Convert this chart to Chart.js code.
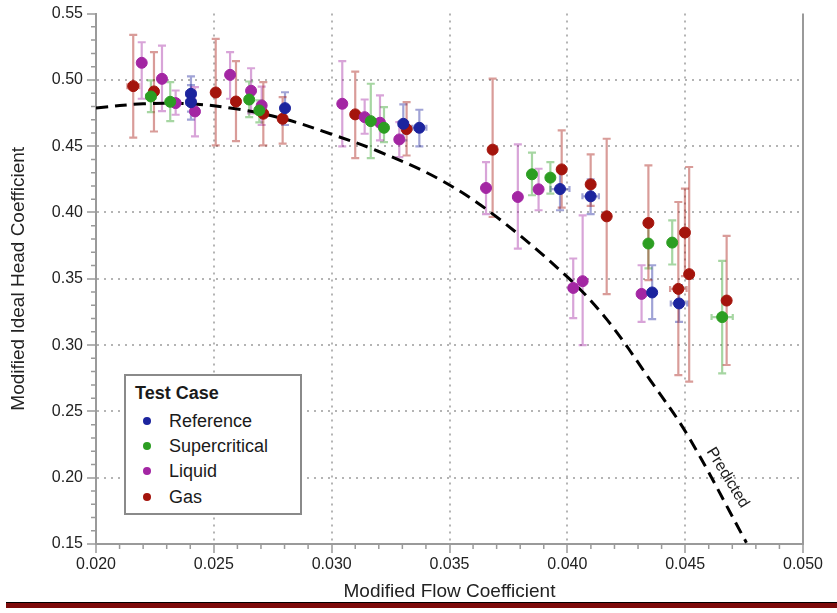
<!DOCTYPE html>
<html>
<head>
<meta charset="utf-8">
<script src="https://cdn.jsdelivr.net/npm/chart.js@4.4.0/dist/chart.umd.min.js"></script>
<style>
    body { margin: 0; background: #fff; font-family: "Liberation Sans", Arial, sans-serif; }
    #wrap { position: relative; width: 837px; height: 613px; }
    #legend {
        position: absolute; left: 124px; top: 374px; width: 174px; height: 137px;
        border: 2px solid #8a8a8a; background: #fff; color: #1a1a1a; font-size: 18px;
    }
    #legend .title { position: absolute; left: 9px; top: 7px; line-height: 20px; font-weight: bold; }
    #legend .row { position: absolute; left: 0; line-height: 20px; height: 20px; }
    #legend .dot { position: absolute; left: 17px; top: 6px; width: 8px; height: 8px; border-radius: 50%; }
    #legend .name { position: absolute; left: 43px; top: 0; white-space: nowrap; }
    #bar { position: absolute; left: 6px; top: 602px; width: 831px; height: 5px; background: #7d0b0b; border-top: 1px solid #000; }
</style>
</head>
<body>
<div id="wrap">
    <canvas id="chart" width="837" height="613"></canvas>
    <div id="legend"><div class="title">Test Case</div></div>
    <div id="bar"></div>
</div>
<script>
// Measured points: flow coefficient (x), head coefficient (y), error limits
const refX   = [0.02403, 0.02403, 0.02802, 0.03304, 0.03372, 0.03969, 0.04099, 0.04360, 0.04474];
const refY   = [0.4895, 0.4832, 0.4787, 0.4669, 0.4639, 0.4177, 0.4122, 0.3397, 0.3314];
const refLo  = [0.4760, 0.4700, 0.4660, 0.4544, 0.4498, 0.4017, 0.3987, 0.3196, 0.3175];
const refHi  = [0.5026, 0.4960, 0.4907, 0.4815, 0.4775, 0.4330, 0.4250, 0.3602, 0.3452];
const refXErr = [0.0002, 0.0002, 0.00017, 0.0002, 0.0003, 0.0004, 0.00035, 0, 0.00035];

const supX   = [0.02233, 0.02315, 0.02650, 0.02693, 0.03166, 0.03222, 0.03850, 0.03928, 0.04344, 0.04445, 0.04657];
const supY   = [0.4875, 0.4835, 0.4852, 0.4770, 0.4689, 0.4639, 0.4288, 0.4263, 0.3766, 0.3773, 0.3211];
const supLo  = [0.4757, 0.4689, 0.4719, 0.4680, 0.4410, 0.4531, 0.4130, 0.4142, 0.3578, 0.3608, 0.2787];
const supHi  = [0.4996, 0.4983, 0.4988, 0.4845, 0.4971, 0.4794, 0.4451, 0.4380, 0.3941, 0.3941, 0.3635];
const supXErr = [0.0002, 0, 0, 0, 0, 0, 0, 0, 0, 0, 0.00045];

const liqX   = [0.02194, 0.02280, 0.02338, 0.02420, 0.02569, 0.02658, 0.02703, 0.03045, 0.03140, 0.03205, 0.03287,
                0.03655, 0.03790, 0.03878, 0.04025, 0.04065, 0.04315];
const liqY   = [0.5129, 0.5008, 0.4825, 0.4762, 0.5038, 0.4918, 0.4807, 0.4820, 0.4719, 0.4677, 0.4551,
                0.4185, 0.4117, 0.4175, 0.3431, 0.3482, 0.3386];
const liqLo  = [0.4858, 0.4764, 0.4737, 0.4574, 0.4858, 0.4747, 0.4660, 0.4498, 0.4594, 0.4544, 0.4418,
                0.3987, 0.3728, 0.4017, 0.3203, 0.3000, 0.3175];
const liqHi  = [0.5284, 0.5259, 0.4920, 0.4945, 0.5209, 0.5088, 0.4950, 0.5141, 0.4852, 0.4883, 0.4681,
                0.4380, 0.4514, 0.4330, 0.3653, 0.3979, 0.3602];

const gasX   = [0.02158, 0.02246, 0.02508, 0.02594, 0.02710, 0.02792, 0.03100, 0.03318, 0.03683, 0.03976,
                0.04099, 0.04167, 0.04344, 0.04471, 0.04499, 0.04517, 0.04676];
const gasY   = [0.4953, 0.4913, 0.4905, 0.4837, 0.4745, 0.4707, 0.4740, 0.4629, 0.4474, 0.4325,
                0.4212, 0.3971, 0.3921, 0.3424, 0.3849, 0.3535, 0.3336];
const gasLo  = [0.4564, 0.4611, 0.4506, 0.4538, 0.4506, 0.4519, 0.4410, 0.4430, 0.3966, 0.4037,
                0.4050, 0.3384, 0.3490, 0.2774, 0.3520, 0.2724, 0.2850];
const gasHi  = [0.5340, 0.5209, 0.5310, 0.5141, 0.4983, 0.4870, 0.5063, 0.4832, 0.5010, 0.4619,
                0.4438, 0.4556, 0.4355, 0.4079, 0.4180, 0.4343, 0.3823];
const gasXErr = [0.00025, 0, 0, 0, 0, 0, 0, 0, 0, 0, 0, 0, 0, 0.00035, 0, 0, 0];

// Predicted curve
const predX = [0.0200, 0.0220, 0.0240, 0.0260, 0.0280, 0.0300, 0.0320, 0.0346, 0.0369,
               0.0400, 0.0417, 0.0435, 0.0451, 0.0476];
const predY = [0.4788, 0.4820, 0.4820, 0.4780, 0.4705, 0.4590, 0.4460, 0.4248, 0.3980,
               0.3514, 0.3188, 0.2740, 0.2322, 0.1510];
const predLabel = 'Predicted';
const predLabelAt = { x: 0.0468, y: 0.200 };

const xTicks = [0.020, 0.025, 0.030, 0.035, 0.040, 0.045, 0.050];
const yTicks = [0.15, 0.20, 0.25, 0.30, 0.35, 0.40, 0.45, 0.50, 0.55];

const series = [
    { label: 'Reference',     x: refX, y: refY, lo: refLo, hi: refHi, xErr: refXErr, rgb: '28,36,158' },
    { label: 'Supercritical', x: supX, y: supY, lo: supLo, hi: supHi, xErr: supXErr, rgb: '44,158,34' },
    { label: 'Liquid',        x: liqX, y: liqY, lo: liqLo, hi: liqHi, xErr: null,    rgb: '163,38,163' },
    { label: 'Gas',           x: gasX, y: gasY, lo: gasLo, hi: gasHi, xErr: gasXErr, rgb: '164,20,12' }
];

const FONT = '"Liberation Sans", Arial, sans-serif';
const isEnd = (v, list) => Math.abs(v - list[0]) < 1e-9 || Math.abs(v - list[list.length - 1]) < 1e-9;

// vertical and horizontal error bars, drawn under the markers
const errorBars = {
    id: 'errorBars',
    beforeDatasetsDraw(chart) {
        const ctx = chart.ctx;
        const xs = chart.scales.x, ys = chart.scales.y;
        chart.data.datasets.forEach(ds => {
            if (!ds.errLo) return;
            ctx.save();
            ctx.strokeStyle = ds.errColor;
            ctx.lineWidth = 2.2;
            ds.data.forEach((p, i) => {
                const px = xs.getPixelForValue(p.x);
                const py = ys.getPixelForValue(p.y);
                const top = ys.getPixelForValue(ds.errHi[i]);
                const bot = ys.getPixelForValue(ds.errLo[i]);
                ctx.beginPath();
                ctx.moveTo(px, top); ctx.lineTo(px, bot);
                ctx.moveTo(px - 4, top); ctx.lineTo(px + 4, top);
                ctx.moveTo(px - 4, bot); ctx.lineTo(px + 4, bot);
                ctx.stroke();
                const e = ds.errX ? ds.errX[i] : 0;
                if (e > 0) {
                    const l = xs.getPixelForValue(p.x - e);
                    const r = xs.getPixelForValue(p.x + e);
                    ctx.beginPath();
                    ctx.moveTo(l, py); ctx.lineTo(r, py);
                    ctx.moveTo(l, py - 3); ctx.lineTo(l, py + 3);
                    ctx.moveTo(r, py - 3); ctx.lineTo(r, py + 3);
                    ctx.stroke();
                }
            });
            ctx.restore();
        });
    }
};

// minor ticks, right frame line and curve label
const frame = {
    id: 'frame',
    afterDraw(chart) {
        const ctx = chart.ctx;
        const xs = chart.scales.x, ys = chart.scales.y;
        const a = chart.chartArea;
        ctx.save();
        ctx.strokeStyle = '#9a9a9a';
        ctx.lineWidth = 1.5;
        ctx.beginPath();
        for (let i = 21; i < 50; i++) {
            if (i % 5 === 0) continue;
            const px = xs.getPixelForValue(i / 1000);
            ctx.moveTo(px, a.bottom); ctx.lineTo(px, a.bottom + 5);
        }
        for (let i = 16; i < 55; i++) {
            if (i % 5 === 0) continue;
            const py = ys.getPixelForValue(i / 100);
            ctx.moveTo(a.left - 5, py); ctx.lineTo(a.left, py);
        }
        ctx.stroke();
        ctx.lineWidth = 2;
        ctx.beginPath();
        ctx.moveTo(a.right, a.top); ctx.lineTo(a.right, a.bottom + 1);
        ctx.stroke();

        ctx.translate(xs.getPixelForValue(predLabelAt.x), ys.getPixelForValue(predLabelAt.y));
        ctx.rotate(58.5 * Math.PI / 180);
        ctx.fillStyle = '#1a1a1a';
        ctx.font = '16px ' + FONT;
        ctx.textAlign = 'center';
        ctx.textBaseline = 'middle';
        ctx.fillText(predLabel, 0, 0);
        ctx.restore();
    }
};

const datasets = series.map(s => ({
    label: s.label,
    data: s.x.map((v, i) => ({ x: v, y: s.y[i] })),
    errLo: s.lo,
    errHi: s.hi,
    errX: s.xErr,
    errColor: `rgba(${s.rgb},0.42)`,
    backgroundColor: `rgb(${s.rgb})`,
    borderColor: `rgb(${s.rgb})`,
    borderWidth: 1,
    pointRadius: 5.5,
    order: 1
}));

datasets.unshift({
    label: predLabel,
    data: predX.map((v, i) => ({ x: v, y: predY[i] })),
    showLine: true,
    borderColor: '#000',
    borderWidth: 3,
    borderDash: [12, 7],
    pointRadius: 0,
    tension: 0.35,
    order: 5
});

new Chart(document.getElementById('chart'), {
    type: 'scatter',
    data: { datasets: datasets },
    options: {
        responsive: false,
        animation: false,
        layout: { padding: { left: 0, right: 34, top: 13, bottom: 0 } },
        plugins: { legend: { display: false }, tooltip: { enabled: false } },
        scales: {
            x: {
                type: 'linear',
                min: xTicks[0],
                max: xTicks[xTicks.length - 1],
                afterFit: s => { s.height = 69; },
                afterBuildTicks: s => { s.ticks = xTicks.map(v => ({ value: v })); },
                ticks: {
                    callback: v => v.toFixed(3),
                    font: { family: FONT, size: 16 },
                    color: '#222',
                    padding: 2,
                    maxRotation: 0
                },
                grid: {
                    color: c => isEnd(c.tick.value, xTicks) ? 'transparent' : '#b4b4b4',
                    lineWidth: 2,
                    tickColor: '#9a9a9a',
                    tickLength: 9,
                    tickWidth: 1.5
                },
                border: { color: '#9a9a9a', width: 2, dash: [2, 5] },
                title: {
                    display: true,
                    text: 'Modified Flow Coefficient',
                    font: { family: FONT, size: 19 },
                    color: '#222',
                    padding: { top: 0, bottom: 10 }
                }
            },
            y: {
                type: 'linear',
                min: yTicks[0],
                max: yTicks[yTicks.length - 1],
                afterFit: s => { s.width = 96; },
                afterBuildTicks: s => { s.ticks = yTicks.map(v => ({ value: v })); },
                ticks: {
                    callback: v => v.toFixed(2),
                    font: { family: FONT, size: 16 },
                    color: '#222',
                    padding: 4
                },
                grid: {
                    color: c => isEnd(c.tick.value, yTicks) ? 'transparent' : '#b4b4b4',
                    lineWidth: 2,
                    tickColor: '#9a9a9a',
                    tickLength: 9,
                    tickWidth: 1.5
                },
                border: { color: '#9a9a9a', width: 2, dash: [2, 5] },
                title: {
                    display: true,
                    text: 'Modified Ideal Head Coefficient',
                    font: { family: FONT, size: 19 },
                    color: '#222',
                    padding: { top: 7, bottom: 0 }
                }
            }
        }
    },
    plugins: [errorBars, frame]
});

// legend entries from the series table
const legend = document.getElementById('legend');
series.forEach((s, i) => {
    const row = document.createElement('div');
    row.className = 'row';
    row.style.top = (35 + i * 25.2) + 'px';
    row.innerHTML = `<span class="dot" style="background:rgb(${s.rgb})"></span><span class="name">${s.label}</span>`;
    legend.appendChild(row);
});
</script>
</body>
</html>
